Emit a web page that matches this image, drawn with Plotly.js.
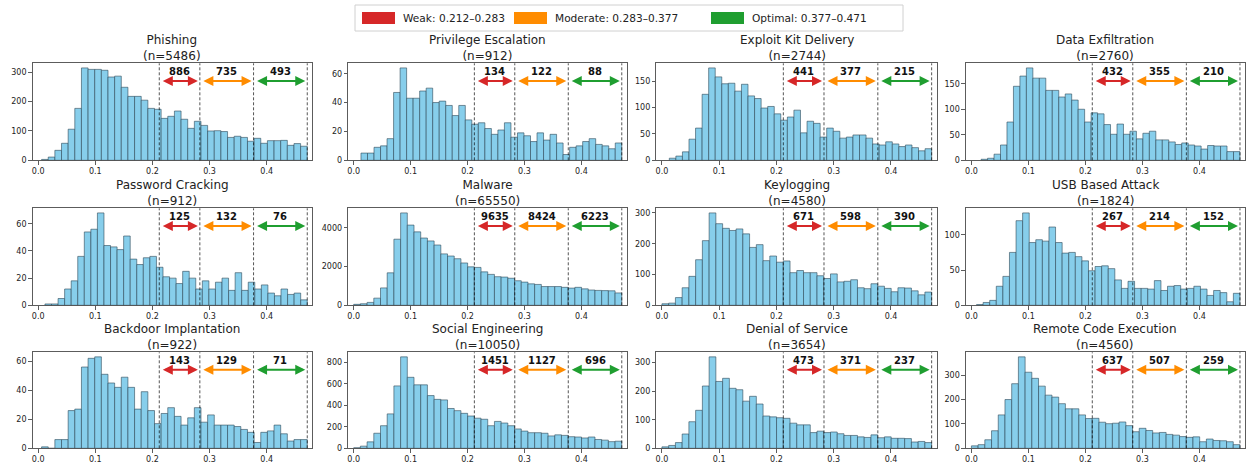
<!DOCTYPE html>
<html><head><meta charset="utf-8">
<script src="https://cdn.plot.ly/plotly-3.0.1.min.js"></script>
<style>html,body{margin:0;padding:0;background:#fff}#chart{width:1247px;height:463px}</style>
</head><body><div id="chart"></div>
<script>
// ---------- DATA ----------
const categories = ["Phishing","Privilege Escalation","Exploit Kit Delivery","Data Exfiltration",
  "Password Cracking","Malware","Keylogging","USB Based Attack",
  "Backdoor Implantation","Social Engineering","Denial of Service","Remote Code Execution"];
const sampleSizes = [5486,912,2744,2760,912,65550,4580,1824,922,10050,3654,4560];
const weakCounts     = [886,134,441,432,125,9635,671,267,143,1451,473,637];
const moderateCounts = [735,122,377,355,132,8424,598,214,129,1127,371,507];
const optimalCounts  = [493,88,215,210,76,6223,390,152,71,696,237,259];
const thresholds = [0.212,0.283,0.377,0.471];
const zoneNames = ["Weak","Moderate","Optimal"];
// each histogram: 40 equal bins from that sample's minimum up to 0.471
const binStarts = [0.006,0.0128,0.0129,0.017,0.0119,0.0,0.0,0.009,0.006,0.0,0.0,0.0];
const binEnd = 0.471, binCount = 40;

const phishing = [3,11,34,58,106,177,315,310,310,307,284,287,249,218,218,205,177,174,143,150,168,140,109,133,119,100,101,98,78,82,78,65,75,58,67,67,68,51,57,48];
const privilegeEscalation = [5,5,9,10,15,47,64,43,43,48,50,40,41,38,31,38,28,25,26,22,18,21,26,16,19,17,13,19,14,18,12,4,9,10,13,15,11,10,8,12];
const exploitKitDelivery = [4,8,16,40,61,125,175,158,145,146,131,144,122,117,99,102,88,76,82,95,52,74,70,44,61,55,42,44,48,48,42,31,29,35,31,26,29,24,18,22];
const dataExfiltration = [2,4,12,30,75,145,165,181,161,161,137,137,124,130,118,100,75,93,91,70,51,71,51,57,42,53,57,40,40,36,31,34,30,28,22,29,28,28,17,17];
const passwordCracking = [1,1,5,12,18,36,54,56,68,44,43,41,51,34,30,35,36,28,21,20,16,25,20,12,18,12,17,20,11,24,11,17,12,15,9,7,12,8,9,4];
const malware = [50,80,150,370,900,1680,3420,4780,4150,3800,3480,3330,3120,2660,2550,2410,2190,1990,1960,1730,1600,1480,1460,1400,1270,1200,1110,1080,970,970,970,930,890,930,850,790,770,760,750,640];
const keylogging = [5,7,25,57,94,148,210,300,265,250,243,248,232,188,197,145,160,140,144,106,113,106,106,96,87,102,76,78,83,57,54,70,62,55,44,57,56,47,34,43];
const usbBasedAttack = [1,4,7,27,41,75,120,131,89,93,91,111,89,74,75,69,63,49,55,56,52,36,24,34,24,24,23,35,21,27,28,23,24,27,23,14,21,18,5,17];
const backdoorImplantation = [1,0,6,6,26,27,56,62,63,51,45,42,49,42,27,39,26,17,24,28,22,16,21,28,18,23,16,16,16,15,13,11,4,11,12,16,10,5,6,6];
const socialEngineering = [5,20,60,140,210,320,580,850,660,590,590,490,455,450,370,350,325,300,280,270,210,250,235,210,180,160,145,145,140,115,125,120,108,105,96,105,82,76,62,66];
const denialOfService = [5,10,20,50,93,133,218,320,234,245,210,205,165,182,155,113,110,107,105,88,82,82,55,60,55,57,51,45,45,40,38,47,37,40,35,35,34,22,24,20];
const remoteCodeExecution = [10,15,35,72,137,200,265,375,312,287,255,218,210,183,162,162,137,122,123,107,101,103,108,93,68,82,73,63,65,57,54,48,45,47,27,38,32,31,27,15];

const seriesList = [phishing,privilegeEscalation,exploitKitDelivery,dataExfiltration,
  passwordCracking,malware,keylogging,usbBasedAttack,
  backdoorImplantation,socialEngineering,denialOfService,remoteCodeExecution];

// ---------- STYLE / LAYOUT ----------
const W = 1247, H = 463;
const FONT = "DejaVu Sans, Liberation Sans, sans-serif";
const zoneColors = ["#d62728","#ff8c00","#1f9e30"];
const yTickStep = [100,20,50,50,20,2000,100,50,20,200,100,100];
const colLeft = [32.45,348.0,656.2,965.7];
const colRight = [312.4,626.9,936.8,1245.1];
const rowTop = [63.3,208.3,352.3];
const rowBottom = [160.3,305.3,448.3];
const xRange = [-0.01,0.48];

const data = [], shapes = [], annotations = [];
const layout = {
  width: W, height: H, margin: {l:0,r:0,t:0,b:0},
  paper_bgcolor: "#fff", plot_bgcolor: "#fff",
  font: {family: FONT, color: "#222"},
  showlegend: false, bargap: 0
};

seriesList.forEach((vals, i) => {
  const n = i + 1, sfx = n === 1 ? "" : String(n);
  const row = Math.floor(i / 4), col = i % 4;
  const xa = "x" + sfx, ya = "y" + sfx;
  const pxPerUnit = (colRight[col] - colLeft[col]) / (xRange[1] - xRange[0]);
  const bw = (binEnd - binStarts[i]) / binCount;
  const centers = vals.map((_, k) => binStarts[i] + bw * (k + 0.5));
  data.push({
    type: "bar", x: centers, y: vals, width: bw,
    xaxis: xa, yaxis: ya, hoverinfo: "skip",
    marker: {color: "#87CEEB", line: {color: "rgba(45,72,88,0.75)", width: 0.8}}
  });
  const maxV = Math.max(...vals);
  layout["xaxis" + sfx] = {
    domain: [colLeft[col] / W, colRight[col] / W], anchor: ya,
    range: xRange, tick0: 0, dtick: 0.1, tickformat: ".1f",
    showline: true, mirror: true, linecolor: "#333", linewidth: 0.8,
    ticks: "outside", ticklen: 3.5, tickwidth: 0.8, tickcolor: "#333",
    showgrid: false, zeroline: false, tickfont: {size: 8, color: "#222"}, fixedrange: true
  };
  layout["yaxis" + sfx] = {
    domain: [1 - rowBottom[row] / H, 1 - rowTop[row] / H], anchor: xa,
    range: [0, maxV * 1.05], tick0: 0, dtick: yTickStep[i],
    showline: true, mirror: true, linecolor: "#333", linewidth: 0.8,
    ticks: "outside", ticklen: 3.5, tickwidth: 0.8, tickcolor: "#333",
    showgrid: false, zeroline: false, tickfont: {size: 8, color: "#222"}, fixedrange: true
  };
  thresholds.forEach(t => shapes.push({
    type: "line", xref: xa, yref: ya + " domain", x0: t, x1: t, y0: 0, y1: 1,
    line: {color: "rgba(0,0,0,0.75)", width: 0.9, dash: "3px,2px"}
  }));
  const counts = [weakCounts[i], moderateCounts[i], optimalCounts[i]];
  for (let z = 0; z < 3; z++) {
    const a = thresholds[z], b = thresholds[z + 1], inset = 0.0035;
    const lenPx = (b - a - 2 * inset) * pxPerUnit;
    annotations.push({
      xref: xa, yref: ya + " domain", axref: "pixel", ayref: "pixel",
      x: b - inset, y: 0.818, ax: -lenPx, ay: 0, text: "",
      showarrow: true, arrowside: "end+start", arrowhead: 2, startarrowhead: 2,
      arrowsize: 1, startarrowsize: 1, arrowwidth: 2, arrowcolor: zoneColors[z],
      standoff: 0, startstandoff: 0
    });
    annotations.push({
      xref: xa, yref: ya + " domain", x: (a + b) / 2, y: 0.818,
      xanchor: "center", yanchor: "bottom", yshift: 2, showarrow: false,
      text: "<b>" + counts[z] + "</b>", font: {size: 10, color: "#111", family: FONT}
    });
  }
  annotations.push({
    xref: xa + " domain", yref: ya + " domain", x: 0.5, y: 1, yanchor: "bottom", yshift: -2,
    showarrow: false, text: categories[i] + "<br>(n=" + sampleSizes[i] + ")",
    font: {size: 12, color: "#222", family: FONT}
  });
});

// legend (manual, matplotlib-style)
const legBox = {x0: 355, x1: 903, y0: 5, y1: 31};
shapes.push({type: "rect", xref: "paper", yref: "paper",
  x0: legBox.x0 / W, x1: legBox.x1 / W, y0: 1 - legBox.y1 / H, y1: 1 - legBox.y0 / H,
  line: {color: "#d0d0d0", width: 1}, fillcolor: "rgba(255,255,255,0.8)"});
const patchX = [362, 514, 711];
zoneNames.forEach((nm, z) => {
  shapes.push({type: "rect", xref: "paper", yref: "paper",
    x0: patchX[z] / W, x1: (patchX[z] + 33) / W, y0: 1 - 24 / H, y1: 1 - 12 / H,
    line: {width: 0}, fillcolor: zoneColors[z]});
  annotations.push({xref: "paper", yref: "paper", x: (patchX[z] + 39) / W, y: 1 - 18 / H,
    xanchor: "left", yanchor: "middle", showarrow: false,
    text: nm + ": " + thresholds[z].toFixed(3) + "\u2013" + thresholds[z + 1].toFixed(3),
    font: {size: 10.6, color: "#222", family: FONT}});
});

layout.shapes = shapes;
layout.annotations = annotations;
Plotly.newPlot("chart", data, layout, {displayModeBar: false, staticPlot: true});
</script></body></html>
